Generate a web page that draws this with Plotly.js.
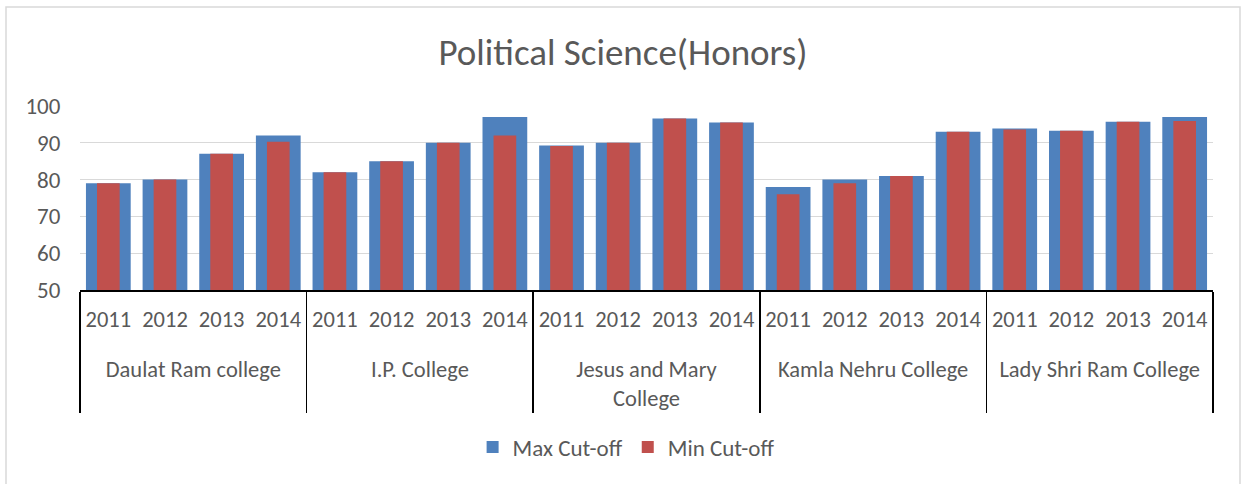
<!DOCTYPE html>
<html>
<head>
<meta charset="utf-8">
<script src="https://cdn.plot.ly/plotly-3.0.1.min.js"></script>
<style>
html,body{margin:0;padding:0;background:#fff;}
#chart{width:1246px;height:484px;}
</style>
</head>
<body>
<div id="chart"></div>
<script>
const colleges = ["Daulat Ram college", "I.P. College", "Jesus and Mary<br>College", "Kamla Nehru College", "Lady Shri Ram College"];
const years = ["2011", "2012", "2013", "2014"];
const maxCutoff = [79, 80, 87, 92,  82, 85, 90, 97,  89.3, 90, 96.6, 95.5,  78, 80, 81, 93,  93.9, 93.3, 95.7, 97];
const minCutoff = [79, 80, 87, 90.3, 82, 85, 90, 92,  89.1, 90, 96.6, 95.5,  76, 79, 81, 93,  93.6, 93.3, 95.7, 95.9];
const seriesNames = ["Max Cut-off", "Min Cut-off"];

// outer labels get an empty first line so they sit lower, as in the reference
const outer = [], inner = [];
colleges.forEach(c => years.forEach(y => { outer.push("\u00a0<br>" + c); inner.push(y); }));

const FONT = "Carlito, Lato, 'Open Sans', sans-serif";
const TXT = "#595959";

const traces = [
  {type: "bar", name: seriesNames[0], x: [outer, inner], y: maxCutoff, width: 0.79,
   marker: {color: "#4F81BD", line: {width: 0}}, hoverinfo: "y"},
  {type: "bar", name: seriesNames[1], x: [outer, inner], y: minCutoff, width: 0.40,
   marker: {color: "#C0504D", line: {width: 0}}, hoverinfo: "y"}
];

const layout = {
  width: 1246, height: 484,
  margin: {l: 80, r: 33, t: 106, b: 194},
  paper_bgcolor: "#fff", plot_bgcolor: "#fff",
  barmode: "overlay",
  font: {family: FONT, color: TXT, size: 22},
  title: {text: "Political Science(Honors)", font: {family: FONT, size: 37, color: TXT},
          x: 0.5, xanchor: "center", y: 1 - 52/484, yanchor: "middle"},
  showlegend: true,
  legend: {orientation: "h", x: 0.482, xanchor: "center", y: -0.853, yanchor: "middle",
           font: {family: FONT, size: 23, color: TXT}, itemwidth: 30, traceorder: "normal"},
  xaxis: {type: "multicategory", showline: true, linecolor: "#000", linewidth: 1.5,
          showgrid: false, zeroline: false, tickfont: {family: FONT, size: 22.5, color: TXT},
          showdividers: true, dividercolor: "#000", dividerwidth: 1.5,
          ticks: "", ticklabelstandoff: 8},
  yaxis: {range: [50, 100], dtick: 10, tick0: 50, showgrid: true, gridcolor: "#D9D9D9", gridwidth: 1,
          showline: false, zeroline: false, tickfont: {family: FONT, size: 23, color: TXT},
          ticks: "outside", ticklen: 14, tickcolor: "rgba(0,0,0,0)"},
  shapes: [
    {type: "rect", xref: "paper", yref: "paper", x0: (6-80)/1133, x1: (1240-80)/1133,
     y0: (290-520)/184, y1: (290-7)/184, line: {color: "#D9D9D9", width: 1.5}, layer: "below"}
  ]
};

Plotly.newPlot("chart", traces, layout, {displayModeBar: false, staticPlot: true});
</script>
</body>
</html>
